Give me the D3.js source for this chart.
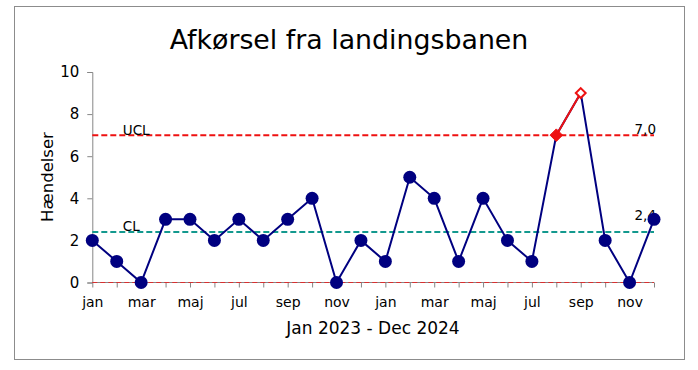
<!DOCTYPE html>
<html><head><meta charset="utf-8">
<script src="https://cdn.jsdelivr.net/npm/d3@7"></script>
<style>body{margin:0;background:#fff}svg{display:block}</style>
</head><body>
<svg id="c" width="698" height="370"></svg>
<script>
const months = ["jan","feb","mar","apr","maj","jun","jul","aug","sep","okt","nov","dec","jan","feb","mar","apr","maj","jun","jul","aug","sep","okt","nov","dec"];
const values = [2,1,0,3,3,2,3,2,3,4,0,2,1,5,4,1,4,2,1,7,9,2,0,3];
const yTicks = [0,2,4,6,8,10];
const ucl = 7.0, cl = 2.4, lcl = 0;
const title = "Afkørsel fra landingsbanen";
const xTitle = "Jan 2023 - Dec 2024";
const yTitle = "Hændelser";

const svg = d3.select("#c");
const font = "DejaVu Sans, Verdana, sans-serif";
svg.append("rect").attr("x",14.5).attr("y",6.5).attr("width",670).attr("height",353)
  .attr("fill","#fff").attr("stroke","#8c8c8c").attr("stroke-width",1);

const idx = d3.range(values.length);
const x = d3.scaleLinear().domain([0, values.length-1]).range([92.3, 654]);
const y = d3.scaleLinear().domain([0,10]).range([282.5, 72]);

// title
svg.append("text").attr("x",349).attr("y",49).attr("text-anchor","middle")
  .attr("font-family",font).attr("font-size",26.8).attr("fill","#000").text(title);

// y axis
const yAxis = svg.append("g").attr("transform","translate(92.3,0)")
  .call(d3.axisLeft(y).tickValues(yTicks).tickSize(5).tickPadding(8));
yAxis.selectAll("path,line").attr("stroke","#868686");
yAxis.selectAll("text").attr("font-family",font).attr("font-size",15).attr("fill","#000");

// x axis
const xAxis = svg.append("g").attr("transform",`translate(0,${y(0)})`)
  .call(d3.axisBottom(x).tickValues(idx).tickSize(5).tickPadding(10)
    .tickFormat(i => i % 2 === 0 ? months[i] : ""));
xAxis.selectAll("path,line").attr("stroke","#868686");
xAxis.select("path").attr("d",`M${x(0)},0H${x(values.length-1)}`);
xAxis.selectAll("text").attr("font-family",font).attr("font-size",14).attr("fill","#000");

// axis titles
svg.append("text").attr("x",373).attr("y",334).attr("text-anchor","middle")
  .attr("font-family",font).attr("font-size",17).attr("fill","#000").text(xTitle);
svg.append("text").attr("transform","translate(53,177) rotate(-90)").attr("text-anchor","middle")
  .attr("font-family",font).attr("font-size",16.5).attr("fill","#000").text(yTitle);

// control lines
const x0 = x(0), x1 = x(values.length-1);
svg.append("line").attr("x1",x0).attr("x2",x1).attr("y1",y(lcl)).attr("y2",y(lcl))
  .attr("stroke","#d83030").attr("stroke-width",1.2).attr("stroke-dasharray","5,3");
svg.append("line").attr("x1",x0).attr("x2",x1).attr("y1",y(ucl)).attr("y2",y(ucl))
  .attr("stroke","#ee1111").attr("stroke-width",2).attr("stroke-dasharray","6,3");
svg.append("line").attr("x1",x0).attr("x2",x1).attr("y1",y(cl)).attr("y2",y(cl))
  .attr("stroke","#13998e").attr("stroke-width",2).attr("stroke-dasharray","6,3");

const lab = (tx,ty,t,anchor) => svg.append("text").attr("x",tx).attr("y",ty).attr("text-anchor",anchor||"start")
  .attr("font-family",font).attr("font-size",13.5).attr("fill","#000").text(t);
lab(x(1.25), y(ucl)-0.5, "UCL");
lab(x(1.25), y(cl)-1, "CL");
lab(x1+2, y(ucl)-1, ucl.toFixed(1).replace(".",","), "end");
lab(x1+2, y(cl)-12, cl.toFixed(1).replace(".",","), "end");

// series line
const navy = "#000080", red = "#ee1111";
const line = d3.line().x(i => x(i)).y(i => y(values[i]));
svg.append("path").attr("d", line(idx)).attr("fill","none").attr("stroke",navy).attr("stroke-width",2);
// special segment (above UCL)
const sig = idx.filter(i => values[i] >= ucl);
svg.append("path").attr("d", line(sig)).attr("fill","none").attr("stroke",red).attr("stroke-width",2);

// markers
svg.selectAll("circle.pt").data(idx.filter(i => values[i] < ucl)).join("circle")
  .attr("cx", i => x(i)).attr("cy", i => y(values[i])).attr("r",6.5).attr("fill",navy);
const diamond = d3.symbol().type(d3.symbolDiamond2);
sig.forEach(i => {
  const over = values[i] > ucl;
  svg.append("path").attr("d", diamond.size(over ? 62 : 100)())
    .attr("transform",`translate(${x(i)},${y(values[i])})`)
    .attr("fill", over ? "#fff" : red).attr("stroke",red).attr("stroke-width", over ? 2 : 1);
});
</script>
</body></html>
